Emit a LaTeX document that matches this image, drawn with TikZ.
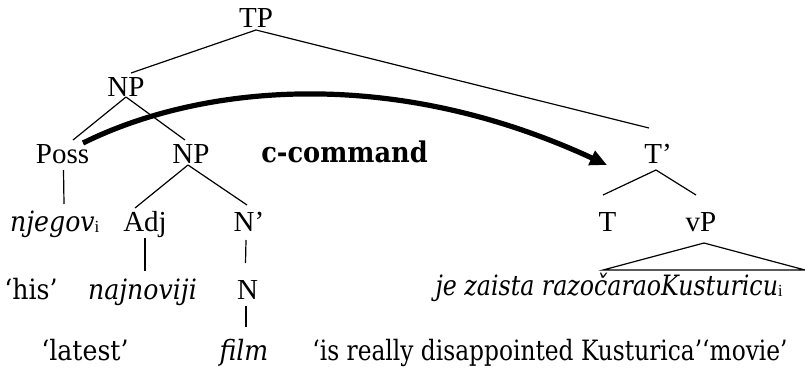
\documentclass[tikz,border=0pt]{standalone}
\usepackage{fontspec}
\setmainfont{Liberation Serif}
\newfontfamily\geo[FakeStretch=0.9]{DejaVu Serif}
\usetikzlibrary{arrows.meta}
\newcommand{\subi}{\raisebox{-1pt}{\fontsize{17}{17}\selectfont\rmfamily\upshape i}}
\begin{document}
\begin{tikzpicture}[x=1pt,y=-1pt,
  lab/.style={anchor=base,inner sep=0pt,font=\fontsize{29}{32}\selectfont},
  geotext/.style={anchor=base,inner sep=0pt,font=\geo\fontsize{28}{32}\selectfont},
  edge/.style={line width=1.2pt},
  carrow/.style={line width=5.2pt,-{Triangle[length=17pt,width=15pt]}}]
\useasboundingbox[fill=white] (0,0) rectangle (805,375);
% labels
\node[lab] (TP) at (256,27) {TP};
\node[lab] (NP1) at (126,96) {NP};
\node[lab] (Poss) at (62.5,163) {Poss};
\node[lab] (NP2) at (191,163) {NP};
\node[geotext,font=\geo\bfseries\fontsize{28.5}{32}\selectfont] (cc) at (344.5,162) {c-command};
\node[lab] (Tbar) at (658,163) {T’};
\node[geotext,anchor=base west] (njegov) at (10,231) {\itshape njegov\subi};
\node[lab] (Adj) at (145,231) {Adj};
\node[lab] (Nbar) at (249,231) {N’};
\node[lab] (T) at (607.5,231) {T};
\node[lab] (vP) at (701,231) {vP};
\node[geotext] (his) at (31,299) {‘his’};
\node[geotext] (najnoviji) at (142.5,299) {\itshape najnoviji};
\node[lab] (N) at (247.5,299) {N};
\node[geotext] (je) at (609,295) {\scalebox{0.94}[1]{\itshape je zaista razočaraoKusturicu\subi}};
\node[geotext] (latest) at (85,360) {‘latest’};
\node[geotext] (film) at (244,360) {\itshape film};
\node[geotext] (gloss) at (550,360) {\scalebox{0.925}[1]{‘is really disappointed Kusturica’‘movie’}};
% tree edges
\draw[edge] ([shift={(0,3)}]TP.base) -- ([shift={(5,-23)}]NP1.base);
\draw[edge] ([shift={(0,3)}]TP.base) -- ([shift={(-9,-35)}]Tbar.base);
\draw[edge] ([shift={(0,1)}]NP1.base) -- ([shift={(10.5,-23)}]Poss.base);
\draw[edge] ([shift={(0,1)}]NP1.base) -- ([shift={(-6,-23)}]NP2.base);
\draw[edge] ([shift={(1,7)}]Poss.base) -- ([shift={(54,-27)}]njegov.base west);
\draw[edge] ([shift={(-3,2)}]NP2.base) -- ([shift={(-10,-23)}]Adj.base);
\draw[edge] ([shift={(-3,2)}]NP2.base) -- ([shift={(-2,-26)}]Nbar.base);
\draw[edge] ([shift={(0,7)}]Adj.base) -- ([shift={(2.5,-28)}]najnoviji.base);
\draw[edge] ([shift={(-3,9)}]Nbar.base) -- ([shift={(-2,-36)}]N.base);
\draw[edge] ([shift={(-1.5,7)}]N.base) -- ([shift={(2,-33)}]film.base);
\draw[edge] ([shift={(-2,7)}]Tbar.base) -- ([shift={(-4.5,-36)}]T.base);
\draw[edge] ([shift={(-2,7)}]Tbar.base) -- ([shift={(-5,-36)}]vP.base);
\draw[edge,line join=miter] ([shift={(3,12)}]vP.base) -- ([shift={(-6,-25)}]je.base) -- ([shift={(196,-25)}]je.base) -- cycle;
% c-command arrow
\draw[carrow] ([shift={(20.5,-20)}]Poss.base) .. controls +(117,-58) and +(-216,-100) .. ([shift={(-51,2)}]Tbar.base);
\end{tikzpicture}
\end{document}
